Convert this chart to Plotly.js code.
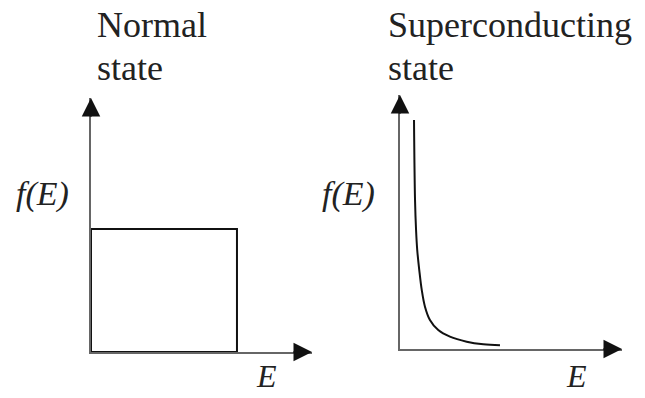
<!DOCTYPE html>
<html>
<head>
<meta charset="utf-8">
<script src="https://cdn.plot.ly/plotly-3.0.1.min.js"></script>
<style>html,body{margin:0;padding:0;background:#fff;}#chart{width:645px;height:398px;}</style>
</head>
<body>
<div id="chart"></div>
<script>
// Normal state: constant distribution (rectangle)
var normalE = [0, 0, 1, 1, 0];
var normalF = [0, 1, 1, 0, 0];

// Superconducting state: sharply peaked, decaying distribution
var superE = [0.096, 0.103, 0.110, 0.118, 0.132, 0.149, 0.171, 0.205, 0.262, 0.342, 0.457, 0.571, 0.685];
var superF = [1.862, 1.211, 0.967, 0.805, 0.642, 0.480, 0.344, 0.236, 0.154, 0.100, 0.059, 0.038, 0.030];

var panelTitles = [["Normal", "state"], ["Superconducting", "state"]];
var yLabel = "f(E)";
var xLabel = "E";

var xMax = [1.514, 1.521];
var yMax = [2.065, 2.065];

var serif = "Liberation Serif, Times New Roman, serif";
var textCol = "#222";
var axisCol = "#666";

var traces = [
  {x: normalE, y: normalF, xaxis: "x", yaxis: "y", mode: "lines",
   line: {color: "#111", width: 2}, hoverinfo: "skip"},
  {x: superE, y: superF, xaxis: "x2", yaxis: "y2", mode: "lines",
   line: {color: "#111", width: 2, shape: "spline", smoothing: 1}, hoverinfo: "skip"}
];

function ax(domain, range) {
  return {domain: domain, range: range, showline: true, linecolor: axisCol, linewidth: 2,
          showgrid: false, zeroline: false, showticklabels: false, ticks: "", fixedrange: true};
}

function arrowHead(xref, yref, x, y, axp, ayp) {
  return {xref: xref, yref: yref, x: x, y: y, ax: axp, ay: ayp, text: "",
          showarrow: true, arrowhead: 2, arrowsize: 1.85, arrowwidth: 2, arrowcolor: "#111"};
}

function label(text, xpx, ypx, size, italic, anchor) {
  return {xref: "paper", yref: "paper", x: xpx / 645, y: 1 - ypx / 398, text: text,
          showarrow: false, xanchor: anchor, yanchor: "middle",
          font: {family: serif, size: size, color: textCol, style: italic ? "italic" : "normal"}};
}

var annotations = [
  arrowHead("x", "y", xMax[0], 0, -20, 0),
  arrowHead("x", "y", 0, yMax[0], 0, 20),
  arrowHead("x2", "y2", xMax[1], 0, -20, 0),
  arrowHead("x2", "y2", 0, yMax[1], 0, 20),
  label(panelTitles[0][0], 95, 25, 36, false, "left"),
  label(panelTitles[0][1], 95, 68, 36, false, "left"),
  label(panelTitles[1][0], 386, 25, 36, false, "left"),
  label(panelTitles[1][1], 386, 68, 36, false, "left"),
  label(yLabel, 42, 194, 34, true, "center"),
  label(yLabel, 348, 194, 34, true, "center"),
  label(xLabel, 266, 376, 32, true, "center"),
  label(xLabel, 576, 376, 32, true, "center")
];

var layout = {
  width: 645, height: 398,
  margin: {l: 0, r: 0, t: 0, b: 0},
  paper_bgcolor: "#fff", plot_bgcolor: "rgba(0,0,0,0)",
  showlegend: false,
  xaxis: ax([91 / 645, 312 / 645], [0, xMax[0]]),
  yaxis: ax([46 / 398, 300 / 398], [0, yMax[0]]),
  xaxis2: Object.assign(ax([400 / 645, 622 / 645], [0, xMax[1]]), {anchor: "y2"}),
  yaxis2: Object.assign(ax([49 / 398, 303 / 398], [0, yMax[1]]), {anchor: "x2"}),
  annotations: annotations
};
layout.xaxis.anchor = "y";
layout.yaxis.anchor = "x";

Plotly.newPlot("chart", traces, layout, {staticPlot: true, displayModeBar: false});
</script>
</body>
</html>
